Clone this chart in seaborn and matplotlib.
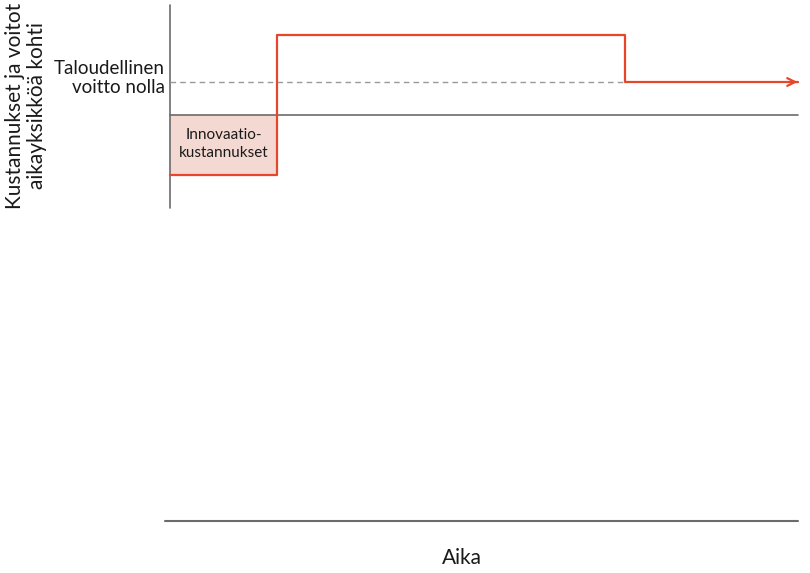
import numpy as np
import pandas as pd
import matplotlib
matplotlib.use('Agg')
import matplotlib.pyplot as plt
import seaborn as sns

# time points (innovation ends, patent ends, end of axis) and profit levels
times = [0.0, 1.0, 4.25, 5.87]
profit = [-6.0, 8.0, 3.3, 3.3]
normal_profit = 3.3
innovation_cost = -6.0
innovation_end = 1.0
patent_end = 4.25

RED = '#e8462b'
FILL = '#f4d9d3'
GRAY = '#6b6b6b'

sns.set_theme(style='white')
plt.rcParams['font.family'] = ['Lato', 'DejaVu Sans']

fig = plt.figure(figsize=(8.1, 5.73), dpi=100)
ax = fig.add_axes([0, 0, 1, 1])
ax.set_xlim(-1.589, 5.981)
ax.set_ylim(-45.8, 11.5)

# axes lines
ax.plot([0, 0], [11.0, -9.3], color=GRAY, lw=1.2)
ax.plot([0, 5.87], [0, 0], color=GRAY, lw=1.2)
ax.plot([-0.05, 5.87], [-40.6, -40.6], color=GRAY, lw=1.5)

# normal profit dashed line
ax.plot([0, patent_end], [normal_profit, normal_profit], color='#999999',
        lw=1.0, ls=(0, (4, 3)))

# innovation cost area
ax.fill_between([0, innovation_end], innovation_cost, 0, color=FILL, lw=0)

df = pd.DataFrame({'aika': times, 'voitto': profit})
sns.lineplot(data=df, x='aika', y='voitto', drawstyle='steps-post',
             color=RED, lw=1.6, ax=ax)
ax.annotate('', xy=(times[-1] + 0.02, profit[-1]), xytext=(times[-1] - 0.1, profit[-1]),
            arrowprops=dict(arrowstyle='->', color=RED, lw=1.6,
                            mutation_scale=14))
ax.axis('off')

ax.text(innovation_end / 2, innovation_cost / 2 + 0.1, 'Innovaatio-\nkustannukset',
        ha='center', va='center', fontsize=11, color='#1a1a1a', linespacing=1.3)
ax.text(-0.045, 3.7, 'Taloudellinen\nvoitto nolla', ha='right', va='center',
        fontsize=13.5, color='#1a1a1a', linespacing=1.2)
ax.text(-1.345, 0.9, 'Kustannukset ja voitot\naikayksikköä kohti', rotation=90,
        ha='center', va='center', fontsize=15, color='#1a1a1a', linespacing=1.15)
ax.text(2.73, -44.3, 'Aika', ha='center', va='center', fontsize=15, color='#1a1a1a')

fig.savefig('out.png', dpi=100)
